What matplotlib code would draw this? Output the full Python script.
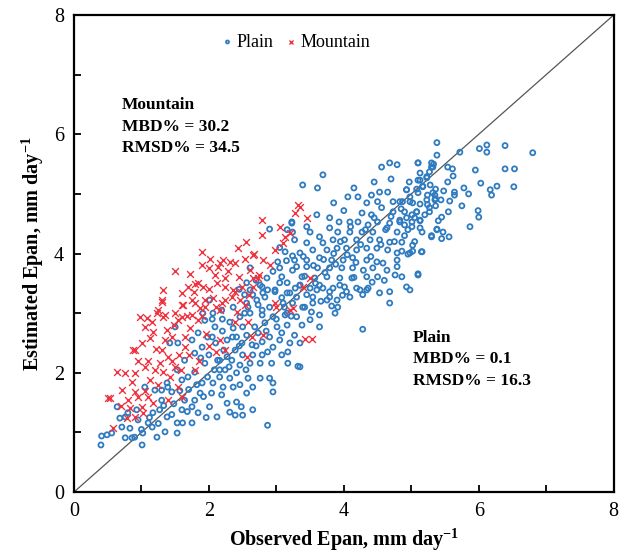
import matplotlib
matplotlib.use("Agg")
import matplotlib.pyplot as plt
from matplotlib.ticker import MultipleLocator

plt.rcParams['font.family'] = ['Liberation Serif', 'DejaVu Serif']
plt.rcParams['mathtext.fontset'] = 'custom'
plt.rcParams['mathtext.rm'] = 'Liberation Serif'
plt.rcParams['mathtext.bf'] = 'Liberation Serif:bold'

# (observed, estimated) pairs
plain_points = [
    (0.40, 0.79), (0.41, 0.94), (0.49, 0.96), (0.56, 0.99), (0.64, 1.43), (0.68, 1.24),
    (0.71, 1.09), (0.76, 0.91), (0.83, 1.07), (0.86, 0.91), (0.90, 0.92), (0.93, 1.38),
    (1.01, 0.79), (1.02, 0.99), (1.10, 1.16), (1.16, 1.09), (1.23, 0.92), (1.17, 1.33),
    (1.27, 1.38), (1.30, 1.54), (1.35, 1.01), (1.38, 1.26), (1.42, 2.50), (1.50, 2.77),
    (1.53, 0.99), (1.53, 1.16), (1.60, 1.38), (1.61, 1.16), (1.64, 1.54), (1.75, 1.43),
    (1.75, 1.16), (1.79, 1.54), (1.84, 1.33), (1.87, 1.66), (1.90, 1.83), (2.01, 1.43),
    (2.04, 1.66), (1.98, 1.93), (1.94, 2.16), (2.06, 1.83), (2.13, 2.21), (2.16, 1.93),
    (2.12, 1.26), (1.60, 1.88), (1.69, 1.93), (1.79, 2.01), (1.45, 1.68), (1.30, 1.71),
    (1.20, 1.71), (1.05, 1.76), (1.38, 1.83), (1.53, 2.05), (1.64, 2.21), (1.79, 2.33),
    (1.90, 2.43), (1.98, 2.60), (2.09, 2.77), (1.94, 2.88), (1.75, 2.55), (1.84, 2.67),
    (1.54, 2.50), (2.06, 3.00), (1.39, 1.76), (0.80, 1.33), (0.76, 1.26), (0.95, 1.21),
    (2.90, 4.41), (3.23, 4.51), (3.16, 4.40), (3.27, 4.23), (3.13, 4.03), (3.02, 3.86),
    (3.24, 3.96), (2.61, 3.76), (3.05, 3.76), (3.08, 3.61), (2.86, 3.59), (2.79, 3.44),
    (2.87, 3.39), (2.61, 3.39), (3.16, 3.51), (3.20, 3.34), (2.98, 3.39), (2.53, 3.31),
    (2.71, 3.22), (2.83, 3.27), (3.08, 3.26), (3.30, 3.27), (2.01, 3.22), (1.91, 3.00),
    (2.58, 3.10), (2.79, 3.05), (2.90, 3.10), (3.16, 3.00), (2.53, 3.00), (2.19, 3.05),
    (4.28, 2.73), (2.87, 1.12), (2.39, 1.29), (2.50, 1.29), (2.65, 1.38), (2.27, 1.49),
    (2.41, 1.51), (2.48, 1.43), (2.56, 1.66), (2.95, 1.68), (2.21, 1.76), (2.36, 1.76),
    (2.46, 1.80), (2.65, 1.76), (2.95, 1.83), (2.90, 1.91), (2.76, 1.91), (2.58, 1.91),
    (2.31, 1.91), (2.41, 2.00), (2.24, 2.05), (2.34, 2.21), (2.46, 2.13), (2.61, 2.16),
    (2.76, 2.16), (2.93, 2.16), (3.17, 2.16), (3.32, 2.11), (3.08, 2.30), (3.17, 2.35),
    (2.87, 2.35), (2.79, 2.30), (2.65, 2.30), (2.50, 2.30), (2.39, 2.38), (2.27, 2.27),
    (2.49, 2.50), (2.64, 2.47), (2.79, 2.52), (2.95, 2.43), (3.05, 2.55), (3.20, 2.50),
    (3.35, 2.50), (3.27, 2.63), (3.08, 2.67), (2.90, 2.60), (2.73, 2.67), (2.56, 2.63),
    (2.41, 2.60), (2.27, 2.55), (2.36, 2.75), (2.50, 2.77), (2.68, 2.77), (2.83, 2.84),
    (3.01, 2.77), (3.16, 2.80), (3.38, 2.80), (3.50, 2.89), (3.64, 2.97), (3.87, 3.00),
    (3.64, 2.77), (3.30, 2.94), (3.13, 2.97), (2.95, 2.94), (2.79, 2.97), (2.61, 3.00),
    (2.46, 2.94), (2.31, 2.85), (2.36, 3.10), (2.56, 3.17), (2.73, 3.14), (3.10, 3.17),
    (3.24, 3.17), (3.39, 3.10), (3.54, 3.17), (3.75, 3.22), (3.90, 3.22), (3.79, 3.36),
    (4.04, 3.36), (4.24, 3.39), (4.34, 3.39), (3.60, 3.39), (3.45, 3.31), (3.16, 3.34),
    (2.98, 3.36), (2.80, 3.34), (2.65, 3.31), (3.94, 3.47), (3.64, 3.47), (3.35, 3.47),
    (3.05, 3.51), (2.76, 3.47), (2.56, 3.51), (2.16, 2.21), (2.16, 2.05), (2.19, 1.63),
    (2.31, 1.34), (3.35, 2.10), (2.00, 2.30), (2.10, 2.50), (2.20, 2.70), (2.05, 2.90),
    (3.69, 5.32), (3.39, 5.15), (3.61, 5.10), (4.56, 5.45), (4.68, 5.52), (4.79, 5.49),
    (5.10, 5.52), (5.30, 5.45), (5.33, 5.50), (5.10, 5.23), (5.23, 5.29), (5.17, 5.12),
    (4.93, 5.07), (4.65, 5.03), (4.53, 5.03), (4.41, 4.98), (4.21, 4.95), (4.06, 4.95),
    (4.34, 4.85), (4.50, 4.87), (4.73, 4.87), (4.87, 4.87), (5.02, 4.85), (5.32, 5.02),
    (5.35, 4.90), (5.24, 4.82), (5.08, 4.70), (4.90, 4.70), (4.73, 4.70), (4.56, 4.77),
    (4.41, 4.65), (4.27, 4.68), (3.79, 4.60), (3.93, 4.53), (4.09, 4.53), (4.21, 4.53),
    (4.36, 4.48), (4.50, 4.53), (4.68, 4.51), (4.83, 4.53), (5.01, 4.53), (5.13, 4.56),
    (5.38, 4.40), (5.30, 4.28), (5.16, 4.36), (4.95, 4.40), (4.79, 4.36), (4.64, 4.43),
    (4.43, 4.36), (4.27, 4.36), (4.09, 4.36), (3.91, 4.36), (3.79, 4.43), (3.64, 4.28),
    (3.69, 4.18), (3.84, 4.23), (4.01, 4.23), (4.19, 4.23), (4.39, 4.23), (4.53, 4.23),
    (4.68, 4.19), (4.86, 4.19), (5.02, 4.14), (5.16, 4.03), (4.98, 4.01), (4.79, 4.01),
    (4.65, 4.06), (4.49, 4.09), (4.34, 4.09), (4.19, 4.06), (4.04, 4.09), (3.90, 4.09),
    (3.75, 4.06), (3.54, 4.06), (3.45, 4.18), (3.50, 4.36), (3.24, 4.36), (3.23, 4.53),
    (3.35, 4.01), (3.27, 3.89), (3.45, 3.89), (3.64, 3.93), (3.82, 3.89), (3.99, 3.89),
    (4.13, 3.93), (4.34, 3.89), (4.49, 3.86), (4.58, 3.84), (4.79, 3.89), (4.79, 3.78),
    (4.64, 3.72), (4.43, 3.76), (4.29, 3.72), (4.13, 3.76), (3.97, 3.76), (3.79, 3.76),
    (3.61, 3.76), (3.45, 3.78), (3.24, 3.72), (3.38, 3.61), (3.57, 3.59), (3.75, 3.61),
    (3.94, 3.59), (4.12, 3.59), (4.34, 3.61), (4.50, 3.61), (4.76, 3.64), (5.10, 3.64),
    (4.93, 3.44), (4.68, 3.36), (4.53, 3.34), (4.36, 3.42), (4.19, 3.42), (4.01, 3.44),
    (3.84, 3.42), (3.69, 3.42), (3.50, 3.42), (3.35, 3.47), (3.54, 3.27), (3.79, 3.27),
    (4.09, 3.27), (4.28, 3.31), (4.68, 3.17), (3.91, 3.10), (3.42, 3.10),
    (5.38, 5.86), (5.38, 5.65), (5.72, 5.70), (6.01, 5.76), (6.12, 5.82), (6.12, 5.70),
    (6.39, 5.81), (6.80, 5.69), (5.10, 5.52), (5.30, 5.52), (5.32, 5.45), (5.54, 5.45),
    (5.61, 5.42), (6.39, 5.42), (6.53, 5.42), (5.27, 5.37), (5.13, 5.35), (5.23, 5.27),
    (5.13, 5.23), (5.54, 5.20), (6.03, 5.18), (6.27, 5.13), (6.17, 5.07), (6.19, 4.98),
    (6.52, 5.12), (4.93, 5.07), (5.08, 5.08), (5.17, 5.13), (5.64, 5.03), (5.64, 4.98),
    (5.36, 5.08), (5.35, 4.98), (5.24, 4.98), (5.10, 5.02), (4.98, 4.95), (4.83, 4.87),
    (4.98, 4.87), (5.23, 4.90), (5.36, 4.92), (5.44, 4.90), (5.57, 4.88), (5.75, 4.80),
    (5.99, 4.72), (6.00, 4.61), (5.87, 4.45), (5.36, 4.80), (5.13, 4.83), (5.27, 4.77),
    (5.27, 4.70), (5.08, 4.70), (5.01, 4.65), (4.93, 4.60), (4.83, 4.56), (5.45, 4.61),
    (5.13, 4.55), (5.05, 4.60), (4.90, 4.48), (5.01, 4.45), (5.13, 4.43), (5.38, 4.41),
    (5.47, 4.36), (5.30, 4.30), (5.45, 4.25), (5.56, 4.28), (4.86, 4.04), (4.95, 3.99),
    (5.02, 4.04), (5.15, 4.03), (4.86, 3.61), (5.10, 3.66), (4.98, 3.39),
    (1.00, 1.05), (1.12, 1.25), (1.25, 1.15), (1.33, 1.45), (1.45, 1.30), (1.48, 1.48),
    (1.57, 1.70), (1.68, 1.35), (1.70, 1.72), (1.82, 1.80), (1.92, 1.60), (1.96, 1.25),
    (2.08, 2.05), (2.22, 2.38), (2.30, 2.10), (2.45, 2.45), (2.55, 2.05), (2.70, 2.45),
    (2.85, 2.70), (3.00, 2.90), (3.12, 3.10), (3.22, 2.95), (3.28, 3.42), (3.42, 3.62),
    (3.55, 3.80), (3.58, 3.50), (3.70, 3.90), (3.72, 3.68), (3.85, 4.00), (3.88, 3.82),
    (3.95, 4.20), (4.05, 3.98), (4.10, 4.45), (4.18, 3.85), (4.25, 4.15), (4.32, 4.40),
    (4.40, 3.95), (4.45, 4.60), (4.55, 4.15), (4.62, 4.40), (4.70, 4.62), (4.75, 4.20),
    (4.85, 4.75), (4.90, 4.30), (4.97, 5.20), (5.05, 4.20), (5.20, 4.65), (5.28, 5.15),
    (5.40, 4.55), (5.48, 5.05), (5.55, 4.70), (5.62, 5.30), (5.78, 5.10), (5.85, 5.00),
    (5.95, 5.40), (3.40, 3.95), (3.52, 3.02), (3.66, 3.20), (3.82, 3.12), (3.98, 3.30),
    (4.15, 3.60), (4.42, 3.52), (4.60, 3.55), (3.30, 3.78), (3.15, 3.88), (3.05, 4.10),
    (3.45, 4.45), (3.60, 4.65), (3.85, 4.85), (4.00, 4.72), (4.15, 5.10), (4.45, 5.20),
    (4.70, 5.25), (2.70, 3.55), (2.95, 3.70), (2.45, 3.40), (2.20, 2.90), (2.35, 2.60),
    (2.05, 2.60), (1.88, 2.25),
]

mountain_points = [
    (0.50, 1.58), (0.53, 1.58), (0.64, 2.01), (0.76, 2.00), (0.58, 1.07), (0.71, 1.71),
    (0.86, 1.85), (0.90, 2.00), (0.80, 1.54), (0.83, 1.41), (0.79, 1.24), (0.95, 1.59),
    (1.01, 1.43), (1.05, 2.10), (1.13, 1.88), (0.87, 2.38), (0.90, 2.38), (1.01, 2.50),
    (1.13, 2.58), (1.17, 2.68), (1.05, 2.77), (0.98, 2.94), (1.08, 2.92), (1.23, 3.00),
    (1.25, 3.05), (1.35, 2.97), (1.60, 3.14), (1.30, 3.19), (1.38, 2.72), (1.45, 2.60),
    (1.30, 2.38), (1.39, 2.27), (1.27, 2.16), (1.20, 2.05), (1.32, 2.01), (1.50, 2.10),
    (1.42, 1.93), (1.54, 1.76), (0.90, 1.68), (1.10, 1.59), (1.17, 1.49), (1.02, 1.33),
    (0.90, 1.26), (1.75, 2.97), (1.72, 2.75), (1.79, 3.17), (1.64, 2.43), (1.84, 2.88),
    (1.94, 3.10), (1.54, 2.88), (1.50, 3.00), (2.19, 3.17),
    (2.79, 4.56), (2.79, 4.31), (1.90, 4.03), (1.90, 3.81), (1.50, 3.71), (2.01, 3.91),
    (2.13, 3.77), (2.16, 3.84), (2.21, 3.89), (2.31, 3.86), (2.39, 3.84), (2.43, 4.09),
    (2.53, 3.91), (2.65, 3.98), (2.67, 4.00), (2.80, 3.89), (2.61, 3.72), (2.09, 3.64),
    (2.24, 3.59), (2.12, 3.51), (1.84, 3.51), (1.80, 3.49), (1.91, 3.44), (1.69, 3.44),
    (1.60, 3.34), (1.32, 3.39), (1.30, 3.22), (2.24, 3.44), (2.36, 3.39), (2.49, 3.44),
    (2.65, 3.59), (2.73, 3.59), (2.75, 3.64), (2.06, 3.26), (1.94, 3.22), (1.75, 3.22),
    (1.87, 3.09), (1.61, 3.14), (1.60, 2.94), (1.32, 2.94), (2.34, 3.27), (2.46, 3.22),
    (2.16, 3.05), (2.41, 3.02), (2.98, 4.06), (3.13, 4.28), (3.10, 4.18), (3.20, 4.35),
    (3.27, 4.68), (3.32, 4.82), (2.98, 3.17), (3.00, 3.10), (3.24, 3.09),
    (3.42, 2.57), (3.53, 2.57), (2.56, 2.27), (2.24, 2.38), (2.64, 2.60), (2.39, 2.85),
    (2.58, 2.85), (3.20, 3.05), (2.53, 3.14), (2.39, 3.36), (2.65, 3.44), (2.24, 3.22),
    (2.80, 2.63), (2.16, 2.55), (3.35, 4.78), (3.45, 4.60), (3.50, 3.59), (3.39, 3.44),
    (1.70, 2.30), (1.85, 2.20), (2.00, 2.45), (1.95, 2.65), (2.10, 2.35), (1.65, 2.60),
    (1.80, 2.05), (1.55, 2.30), (1.60, 1.60), (1.40, 1.55),
    (1.10, 2.20), (1.22, 2.40), (1.35, 2.55), (1.48, 2.80), (1.58, 2.05), (1.68, 2.95),
    (1.78, 3.35), (1.90, 2.95), (2.00, 3.40), (2.10, 3.10), (2.28, 3.70), (2.45, 3.60),
    (2.55, 4.20), (1.15, 2.85), (1.25, 1.80), (0.95, 2.20), (0.70, 1.45), (1.05, 1.70),
    (1.45, 2.20), (1.72, 3.65), (2.00, 3.75), (2.60, 3.30), (2.90, 3.80), (3.05, 4.45),
]

plain_obs = [p[0] for p in plain_points]
plain_est = [p[1] for p in plain_points]
mountain_obs = [p[0] for p in mountain_points]
mountain_est = [p[1] for p in mountain_points]

blue = '#2F7BC0'
red = '#EE3340'

fig = plt.figure(figsize=(6.32, 5.56), dpi=100)
ax = fig.add_axes([0.117, 0.115, 0.854, 0.858])

ax.plot([0, 8], [0, 8], color='#555555', lw=0.9, zorder=1)
ax.scatter(plain_obs, plain_est, marker='o', s=13, facecolors='none',
           edgecolors=blue, linewidths=1.3, label='Plain', zorder=2)
ax.scatter(mountain_obs, mountain_est, marker='x', s=24, color=red,
           linewidths=1.0, label='Mountain', zorder=3)

ax.set_xlim(0, 8)
ax.set_ylim(0, 8)
ax.xaxis.set_major_locator(MultipleLocator(2))
ax.yaxis.set_major_locator(MultipleLocator(2))
ax.xaxis.set_minor_locator(MultipleLocator(1))
ax.yaxis.set_minor_locator(MultipleLocator(1))
ax.tick_params(which='both', direction='in', length=5, width=1.3,
               top=False, right=False, labelsize=14.5, pad=7)
for sp in ax.spines.values():
    sp.set_linewidth(1.6)

ax.set_xlabel('Observed Epan, mm day$^{\\mathbf{-1}}$', fontsize=14.5,
              fontweight='bold', labelpad=4)
ax.set_ylabel('Estimated Epan, mm day$^{\\mathbf{-1}}$', fontsize=14.5,
              fontweight='bold', labelpad=6)

ax.text(0.71, 6.62, 'Mountain\nMBD% = 30.2\nRMSD% = 34.5', fontsize=12.5,
        fontweight='bold', va='top', ha='left', linespacing=1.45)
ax.text(5.02, 2.72, 'Plain\nMBD% = 0.1\nRMSD% = 16.3', fontsize=12.5,
        fontweight='bold', va='top', ha='left', linespacing=1.45)

ax.legend(loc='center', bbox_to_anchor=(0.41, 0.943), ncol=2, frameon=False,
          fontsize=13, handletextpad=0.1, columnspacing=0.6, markerscale=0.6,
          handlelength=0.8)

fig.savefig('out.png', dpi=100)
